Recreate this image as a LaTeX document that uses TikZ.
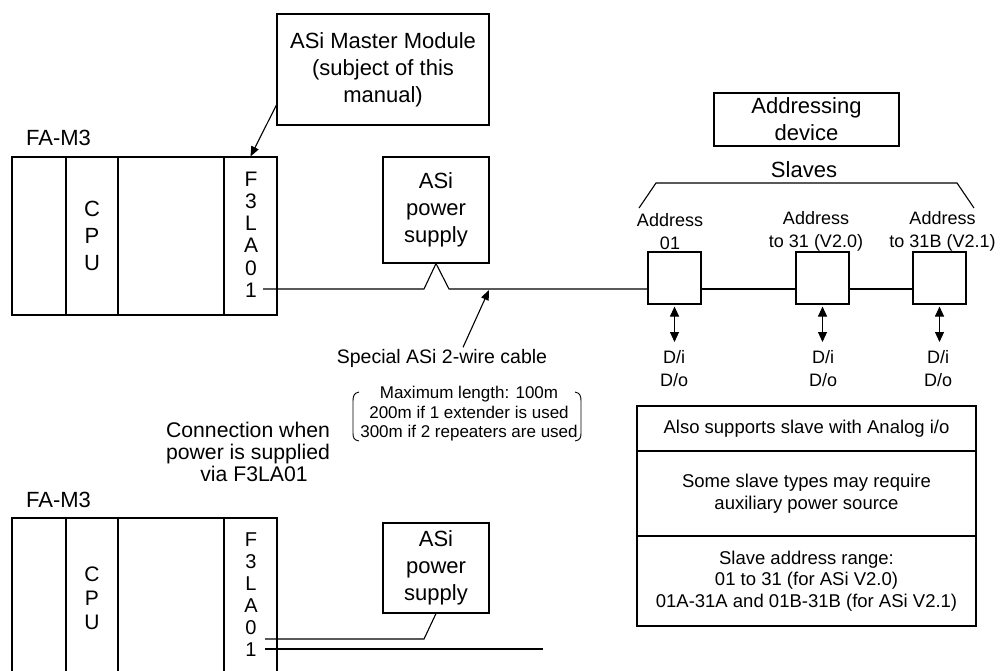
\documentclass[tikz,border=0pt]{standalone}
\usepackage{fontspec}
\setmainfont{Liberation Sans}
\usetikzlibrary{arrows.meta}
\begin{document}
\begin{tikzpicture}[x=1pt,y=-1pt, line width=1.1pt,
  box/.style={draw, inner sep=0pt, align=center},
  txt/.style={inner sep=0pt, align=center},
  col/.style={draw, inner sep=0pt, align=center, minimum height=158pt},
  colb/.style={draw, inner sep=0pt, minimum height=170pt},
  big/.style={font=\fontsize{22}{27}\selectfont},
  cpuf/.style={font=\fontsize{22}{27}\selectfont},
  letf/.style={font=\fontsize{21}{22.2}\selectfont},
  mid/.style={font=\fontsize{21.2}{21.8}\selectfont},
  spec/.style={font=\fontsize{19.5}{23}\selectfont},
  small/.style={font=\fontsize{18}{23}\selectfont},
  note/.style={font=\fontsize{18.5}{21.5}\selectfont},
  tiny/.style={font=\fontsize{17}{19.5}\selectfont},
  arr/.style={-{Triangle[length=10pt,width=8pt]}},
  darr/.style={{Triangle[length=10pt,width=9pt]}-{Triangle[length=10pt,width=9pt]}},
]
\useasboundingbox (0,0) rectangle (1000,671);

% ---------- top PLC ----------
\node[txt,big] (fam1) at (58.5,138) {FA-M3};
\node[col, minimum width=54pt] (c1a) at (39,236) {};
\node[col, minimum width=52pt, cpuf] (cpu1) at (92,236) {C\\P\\U};
\node[col, minimum width=106pt] (c3a) at (171,236) {};
\node[col, minimum width=53pt] (f3a) at (250.5,236) {};
\node[txt, letf] (f3at) at (251,234.5) {F\\3\\L\\A\\0\\1};

% master module
\node[box, big, minimum width=212pt, minimum height=111pt] (master) at (383,69.5)
  {ASi Master Module\\(subject of this\\manual)};
\draw[arr] ([yshift=-35.5pt]master.west) -- (f3a.north);

% power supply
\node[box, big, minimum width=106pt, minimum height=106pt] (ps1) at (436,210)
  {ASi\\power\\supply};

% slaves
\node[box, minimum width=53pt, minimum height=52pt] (s1) at (674.5,278) {};
\node[box, minimum width=53pt, minimum height=52pt] (s2) at (822.5,278) {};
\node[box, minimum width=53pt, minimum height=52pt] (s3) at (939.5,278) {};

% cable
\coordinate (c0) at (263,289);
\coordinate (k1) at (424,289);
\coordinate (k2) at (449,289);
\draw (c0) -- (k1) -- (ps1.south) -- (k2) -- (s1.west |- c0);
\draw (s1.east |- c0) -- (s2.west |- c0);
\draw (s2.east |- c0) -- (s3.west |- c0);

% io arrows
\coordinate (d1) at (674.5,342);
\coordinate (d2) at (822.5,342);
\coordinate (d3) at (939.5,342);
\draw[darr] ([yshift=-2pt]s1.south) -- (d1);
\draw[darr] ([yshift=-2pt]s2.south) -- (d2);
\draw[darr] ([yshift=-2pt]s3.south) -- (d3);
\node[txt, small] (io1) at (674,368.5) {D/i\\D/o};
\node[txt, small] (io2) at (823,368.5) {D/i\\D/o};
\node[txt, small] (io3) at (938,368.5) {D/i\\D/o};

% address labels
\node[txt, small] (a1) at (670,231.5) {Address\\01};
\node[txt, small] (a2) at (816,231.5) {Address\\to 31 (V2.0)};
\node[txt, small] (a3) at (942.5,231.5) {Address\\to 31B (V2.1)};

% slaves brace
\node[txt, big] (slv) at (804,170) {Slaves};
\coordinate (br1) at (639,208);
\coordinate (br2) at (656,183);
\coordinate (br3) at (957,183);
\coordinate (br4) at (974,208);
\draw (br1) -- (br2) -- (br3) -- (br4);

% addressing device
\node[box, big, minimum width=185pt, minimum height=53pt] (addr) at (806.5,119.5)
  {Addressing\\device};

% notes box
\node[box, note, minimum width=339pt, minimum height=45pt] (n1) at (806.5,428.5)
  {Also supports slave with Analog i/o};
\node[box, note, minimum width=339pt, minimum height=85pt] (n2) at (806.5,493.5)
  {Some slave types may require\\auxiliary power source};
\node[box, note, minimum width=339pt, minimum height=90pt] (n3) at (806.5,581)
  {Slave address range:\\01 to 31 (for ASi V2.0)\\01A-31A and 01B-31B (for ASi V2.1)};

% cable label
\node[txt, spec] (spec) at (442,358) {Special ASi 2-wire cable};
\coordinate (ca) at (489,290);
\draw[arr] ([xshift=21pt,yshift=1pt]spec.north) -- (ca);

\node[txt, tiny] (mx) at (469,414)
  {Maximum length: 100m\\200m if 1 extender is used\\300m if 2 repeaters are used};
\draw[line width=0.9pt] (359,392) .. controls (354,393) and (353,396) .. (353,401) -- (353,433)
  .. controls (353,438) and (354,440) .. (359,441);
\draw[line width=0.9pt] (575,392) .. controls (580,393) and (581,396) .. (581,401) -- (581,433)
  .. controls (581,438) and (580,440) .. (575,441);

% ---------- bottom PLC ----------
\node[txt, mid] (conn) at (248,452) {Connection when\\power is supplied\\\hspace*{12pt}via F3LA01};
\node[txt,big] (fam2) at (58.5,500) {FA-M3};
\node[colb, minimum width=54pt] (c1b) at (39,603) {};
\node[colb, minimum width=52pt] (cpu2) at (92,603) {};
\node[colb, minimum width=106pt] (c3b) at (171,603) {};
\node[colb, minimum width=53pt] (f3b) at (250.5,603) {};
\node[txt, font=\fontsize{21}{24}\selectfont] (cpu2t) at (92,598) {C\\P\\U};
\node[txt, font=\fontsize{20}{22}\selectfont] (f3bt) at (251,595) {F\\3\\L\\A\\0\\1};

\node[box, big, minimum width=106pt, minimum height=90pt] (ps2) at (436,568)
  {ASi\\power\\supply};
\coordinate (b0) at (265,639);
\coordinate (b0k) at (424,639);
\draw (b0) -- (b0k) -- (ps2.south);
\coordinate (b1) at (265,649);
\coordinate (b1e) at (543,649);
\draw (b1) -- (b1e);
\end{tikzpicture}
\end{document}
